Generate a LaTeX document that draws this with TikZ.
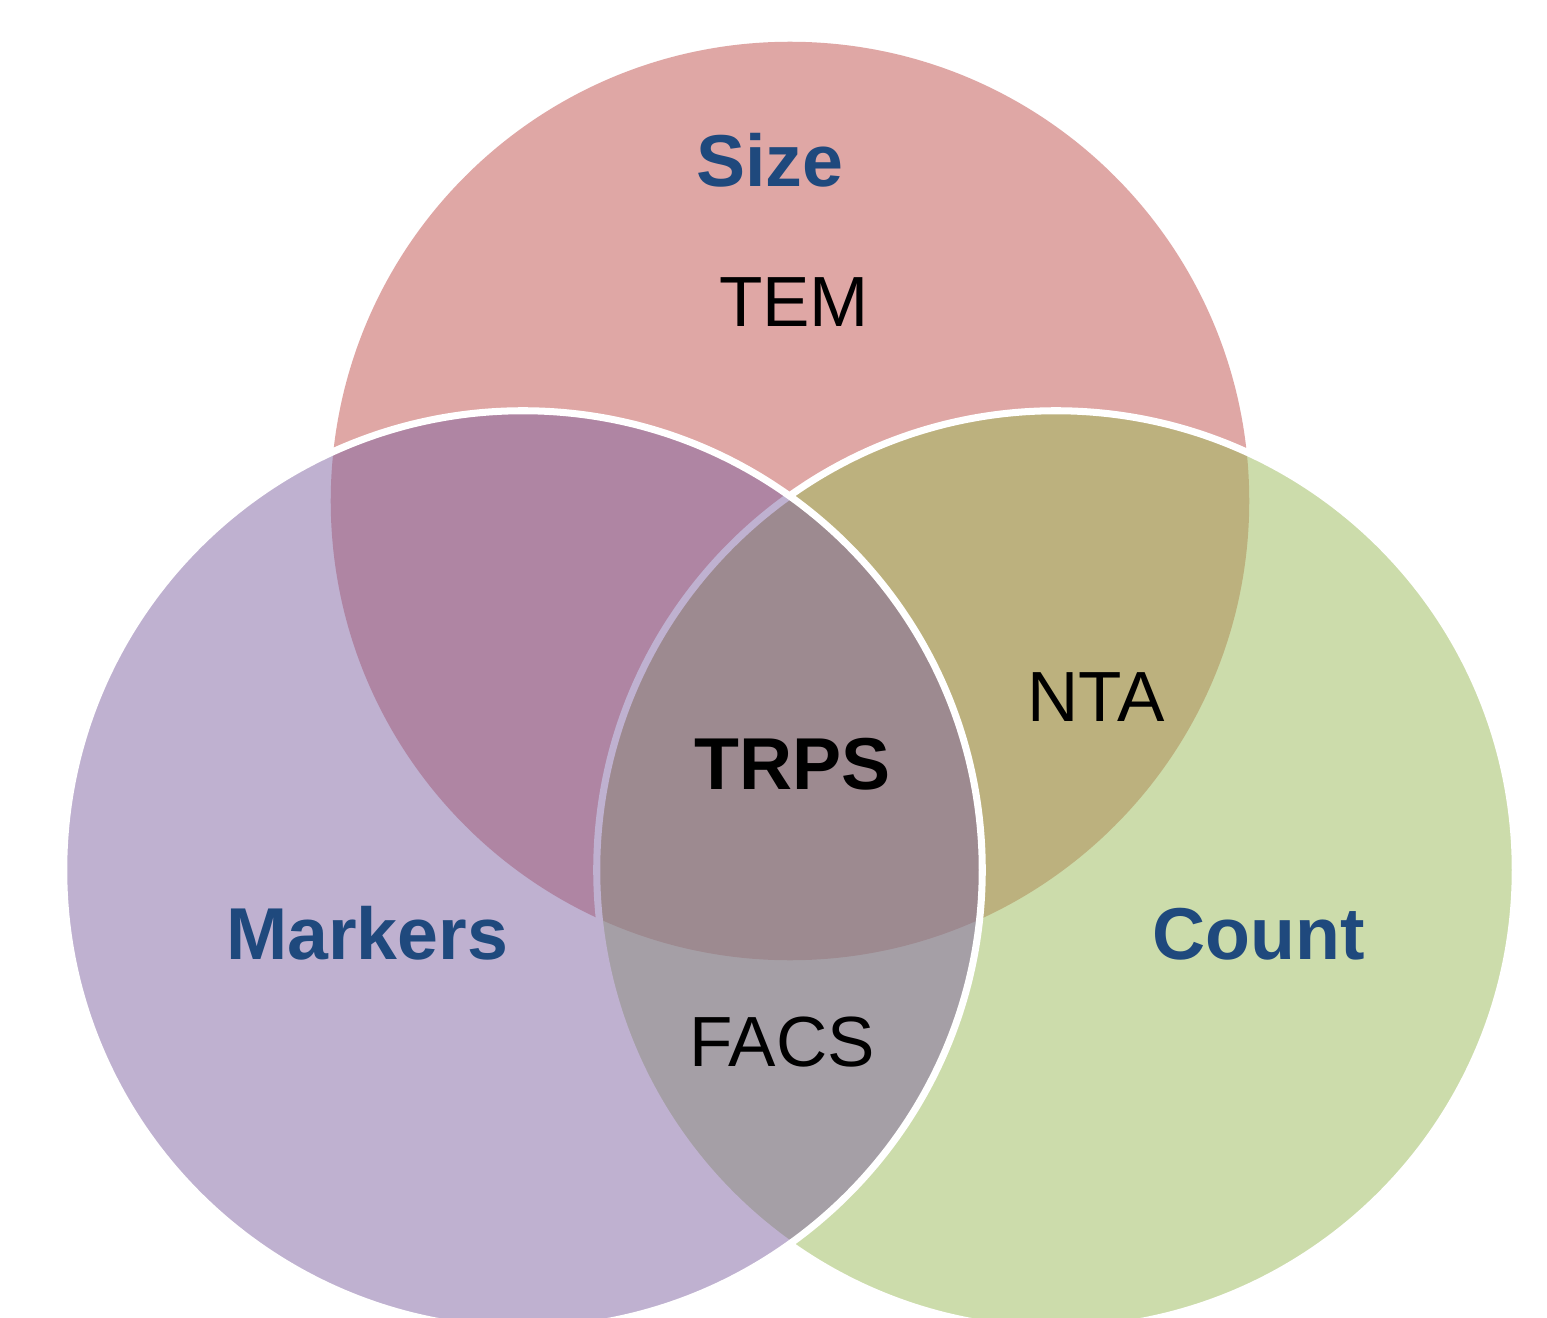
\documentclass[tikz,border=0pt]{standalone}
\usepackage{fontspec}
\setmainfont{Liberation Sans}
\usepackage{xcolor}
\usepackage{tikz}
\definecolor{sizered}{HTML}{C0504D}
\definecolor{markpurple}{HTML}{8064A2}
\definecolor{countgreen}{HTML}{9BBB59}
\definecolor{headblue}{HTML}{1F497D}
\tikzstyle{vset} = [circle, inner sep=0pt, minimum size=9.18cm, fill opacity=0.5]
\tikzstyle{ring} = [draw=white, line width=2pt]
\tikzstyle{head} = [anchor=base, inner sep=0pt, text=headblue, font=\fontsize{20.9}{24}\selectfont\bfseries]
\tikzstyle{method} = [anchor=base, inner sep=0pt, text=black, font=\fontsize{20.2}{24}\selectfont]

\begin{document}
\begin{tikzpicture}[x=0.01cm, y=-0.01cm]
\useasboundingbox (0,0) rectangle (1547,1318);
\fill[white] (0,0) rectangle (1547,1318);
\clip (0,0) rectangle (1547,1318);

\node (size) [vset, fill=sizered] at (790,501) {};
\node (count) [vset, ring, fill=countgreen] at (1056,870) {};
\node (markers) [vset, ring, fill=markpurple] at (523,870) {};

\node (sizelbl) [head] at (770,186) {Size};
\node (markerslbl) [head] at (367,959) {Markers};
\node (countlbl) [head] at (1259,959) {Count};
\node (trps) [head, text=black] at (793,789) {TRPS};
\node (tem) [method] at (794,327) {TEM};
\node (nta) [method] at (1096,721) {NTA};
\node (facs) [method] at (782,1066) {FACS};
\end{tikzpicture}
\end{document}
